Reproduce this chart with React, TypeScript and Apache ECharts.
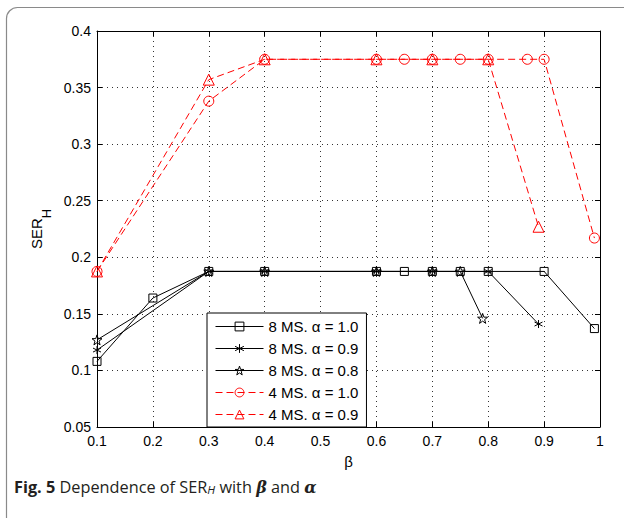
import React, { useEffect, useRef } from "react";
import * as echarts from "echarts";

// beta values and SER_H values
const beta8a10 = [0.1, 0.2, 0.3, 0.4, 0.6, 0.65, 0.7, 0.75, 0.8, 0.9, 0.99];
const ser8a10 = [0.108, 0.164, 0.1875, 0.1875, 0.1875, 0.1875, 0.1875, 0.1875, 0.1875, 0.1875, 0.137];

const beta8a09 = [0.1, 0.3, 0.4, 0.6, 0.7, 0.8, 0.89];
const ser8a09 = [0.118, 0.1875, 0.1875, 0.1875, 0.1875, 0.1875, 0.141];

const beta8a08 = [0.1, 0.3, 0.4, 0.6, 0.7, 0.75, 0.79];
const ser8a08 = [0.127, 0.1875, 0.1875, 0.1875, 0.1875, 0.1875, 0.146];

const beta4a10 = [0.1, 0.3, 0.4, 0.6, 0.65, 0.7, 0.75, 0.8, 0.87, 0.9, 0.99];
const ser4a10 = [0.1875, 0.338, 0.375, 0.375, 0.375, 0.375, 0.375, 0.375, 0.375, 0.375, 0.217];

const beta4a09 = [0.1, 0.3, 0.4, 0.6, 0.7, 0.8, 0.89];
const ser4a09 = [0.1875, 0.357, 0.375, 0.375, 0.375, 0.375, 0.227];

const seriesNames = [
  "8 MS. α = 1.0",
  "8 MS. α = 0.9",
  "8 MS. α = 0.8",
  "4 MS. α = 1.0",
  "4 MS. α = 0.9",
];

const xMin = 0.1, xMax = 1, xStep = 0.1;
const yMin = 0.05, yMax = 0.4, yStep = 0.05;

const ASTERISK = "path://M5,0L5,10M0.67,2.5L9.33,7.5M0.67,7.5L9.33,2.5";
const STAR =
  "path://M5,0L6.18,3.38L9.76,3.45L6.9,5.62L7.94,9.05L5,7L2.06,9.05L3.1,5.62L0.24,3.45L3.82,3.38Z";

const zip = (xs: number[], ys: number[]) => xs.map((x, i) => [x, ys[i]]);
const fmt = (v: number) => String(+v.toFixed(2));

const AXIS_FONT = "'Liberation Sans', Arial, Helvetica, sans-serif";

function makeSeries(
  name: string,
  xs: number[],
  ys: number[],
  color: string,
  symbol: string,
  size: number,
  dashed: boolean
) {
  return {
    name,
    type: "line",
    data: zip(xs, ys),
    symbol,
    symbolSize: size,
    showAllSymbol: true,
    lineStyle: { color, width: 1, type: dashed ? [7, 4] : "solid" },
    itemStyle: { color: "rgba(0,0,0,0)", borderColor: color, borderWidth: 1 },
    emphasis: { disabled: true },
  };
}

export default function App() {
  const ref = useRef<HTMLDivElement>(null);
  useEffect(() => {
    const chart = echarts.init(ref.current!, null, { renderer: "svg" });
    const option = {
      animation: false,
      backgroundColor: "#fff",
      grid: { left: 97, right: 24, top: 31, bottom: 91, containLabel: false },
      xAxis: [
        {
          type: "value",
          min: xMin,
          max: xMax,
          interval: xStep,
          position: "bottom",
          name: "β",
          nameLocation: "middle",
          nameGap: 27,
          nameTextStyle: { fontFamily: AXIS_FONT, fontSize: 15, color: "#000" },
          axisLine: { show: true, lineStyle: { color: "#000", width: 1 } },
          axisTick: { show: true, inside: true, length: 5, lineStyle: { color: "#000" } },
          axisLabel: {
            formatter: fmt,
            fontFamily: AXIS_FONT,
            fontSize: 14,
            color: "#000",
            margin: 7,
          },
          splitLine: { show: true, lineStyle: { color: "#333", width: 1, type: [1, 4] } },
        },
        {
          type: "value",
          min: xMin,
          max: xMax,
          interval: xStep,
          position: "top",
          axisLine: { show: true, lineStyle: { color: "#000", width: 1 } },
          axisTick: { show: true, inside: true, length: 5, lineStyle: { color: "#000" } },
          axisLabel: { show: false },
          splitLine: { show: false },
        },
      ],
      yAxis: [
        {
          type: "value",
          min: yMin,
          max: yMax,
          interval: yStep,
          position: "left",
          name: "{a|SER}{b|H}",
          nameLocation: "middle",
          nameGap: 44,
          nameRotate: 90,
          nameTextStyle: {
            fontFamily: AXIS_FONT,
            color: "#000",
            rich: {
              a: { fontFamily: AXIS_FONT, fontSize: 15, color: "#000", lineHeight: 24, verticalAlign: "top" },
              b: { fontFamily: AXIS_FONT, fontSize: 13, color: "#000", lineHeight: 24, verticalAlign: "bottom" },
            },
          },
          axisLine: { show: true, lineStyle: { color: "#000", width: 1 } },
          axisTick: { show: true, inside: true, length: 5, lineStyle: { color: "#000" } },
          axisLabel: {
            formatter: fmt,
            fontFamily: AXIS_FONT,
            fontSize: 14,
            color: "#000",
            margin: 6,
          },
          splitLine: { show: true, lineStyle: { color: "#333", width: 1, type: [1, 4] } },
        },
        {
          type: "value",
          min: yMin,
          max: yMax,
          interval: yStep,
          position: "right",
          axisLine: { show: true, lineStyle: { color: "#000", width: 1 } },
          axisTick: { show: true, inside: true, length: 5, lineStyle: { color: "#000" } },
          axisLabel: { show: false },
          splitLine: { show: false },
        },
      ],
      legend: {
        orient: "vertical",
        left: 207,
        top: 313,
        padding: [5, 8, 4, 8],
        itemGap: 5,
        itemWidth: 48,
        itemHeight: 11,
        backgroundColor: "#fff",
        borderColor: "#000",
        borderWidth: 1,
        selectedMode: false,
        lineStyle: { width: 1 },
        itemStyle: { borderWidth: 1 },
        textStyle: { fontFamily: AXIS_FONT, fontSize: 15, color: "#000", lineHeight: 17 },
        data: seriesNames,
      },
      series: [
        makeSeries(seriesNames[0], beta8a10, ser8a10, "#000", "rect", 8, false),
        makeSeries(seriesNames[1], beta8a09, ser8a09, "#000", ASTERISK, 8, false),
        makeSeries(seriesNames[2], beta8a08, ser8a08, "#000", STAR, 10, false),
        makeSeries(seriesNames[3], beta4a10, ser4a10, "#ff0000", "circle", 10, true),
        makeSeries(seriesNames[4], beta4a09, ser4a09, "#ff0000", "triangle", 11, true),
      ],
      graphic: [
        {
          type: "rect",
          silent: true,
          z: -10,
          shape: { x: 6.5, y: 7.5, width: 660, height: 580, r: 11 },
          style: { fill: "none", stroke: "#8a8a8a", lineWidth: 1.2 },
        },
        {
          type: "text",
          left: 14,
          top: 479,
          style: {
            text: "{b|Fig. 5} Dependence of SER{s|H} with {i|β} and {i|α}",
            fontFamily: "'Open Sans', 'Noto Sans', sans-serif",
            fontSize: 16.3,
            fill: "#231f20",
            rich: {
              b: { fontFamily: "'Open Sans', sans-serif", fontSize: 16.3, fontWeight: "bold", fill: "#231f20" },
              s: { fontFamily: "'Open Sans', sans-serif", fontSize: 11.5, fontStyle: "italic", fill: "#231f20", verticalAlign: "bottom", padding: [5, 0, 0, 0] },
              i: { fontFamily: "'DejaVu Serif', serif", fontSize: 16, fontStyle: "italic", fontWeight: "bold", fill: "#231f20" },
            },
          },
        },
      ],
    };
    chart.setOption(option as any);
    return () => chart.dispose();
  }, []);
  return (
    <div
      ref={ref}
      style={{ position: "absolute", left: 0, top: 0, width: 624, height: 518, background: "#fff" }}
    />
  );
}
